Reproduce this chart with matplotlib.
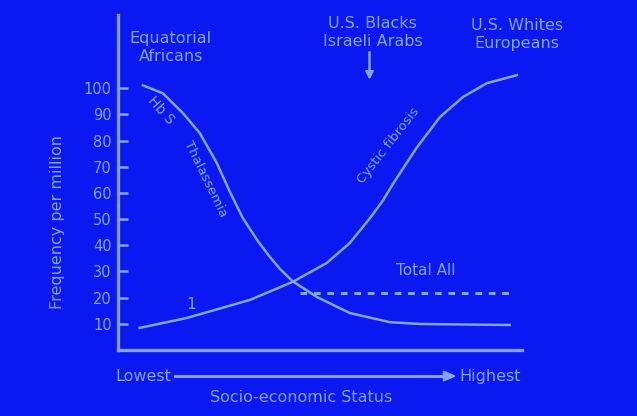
import numpy as np
import matplotlib.pyplot as plt

# socio-economic position (0 = lowest, 10 = highest) and frequency per million
dec_x = [0.62, 1.11, 1.61, 2.03, 2.45, 2.77, 3.09, 3.27, 3.47, 3.76, 4.01, 4.33, 4.93, 5.74, 6.73, 7.48, 9.70]
dec_y = [101.1, 98.1, 90.5, 82.8, 71.4, 60.5, 50.5, 46.2, 41.5, 35.6, 31.0, 26.2, 20.2, 14.1, 10.6, 9.9, 9.5]

inc_x = [0.54, 1.71, 3.27, 4.33, 5.17, 5.74, 6.24, 6.56, 6.81, 7.40, 7.97, 8.54, 9.13, 9.88]
inc_y = [8.4, 12.2, 19.1, 26.0, 33.2, 40.8, 50.3, 57.0, 63.4, 77.3, 88.9, 96.6, 101.9, 105]

flat_x = [4.5, 9.7]
flat_y = [21.8, 21.8]

yticks = [10, 20, 30, 40, 50, 60, 70, 80, 90, 100]

bg = '#0a18f2'
fg = '#86a6f2'

fig = plt.figure(figsize=(6.37, 4.16), dpi=100, facecolor=bg)
ax = fig.add_axes([0.185, 0.159, 0.634, 0.805], facecolor=bg)

ax.plot(dec_x, dec_y, color=fg, lw=1.8, solid_joinstyle='round')
ax.plot(inc_x, inc_y, color=fg, lw=1.8, solid_joinstyle='round')
ax.plot(flat_x, flat_y, color=fg, lw=2.2, ls=(0, (2.2, 2.2)))

ax.set_xlim(0, 10)
ax.set_ylim(0, 128)
ax.set_xticks([])
ax.set_yticks(yticks)
ax.tick_params(axis='y', direction='in', length=7, width=1.8, colors=fg,
               labelsize=10.5, pad=4.5)
for s in ['top', 'right']:
    ax.spines[s].set_visible(False)
for s in ['left', 'bottom']:
    ax.spines[s].set_color(fg)
    ax.spines[s].set_linewidth(2.4)

ax.set_ylabel('Frequency per million', color=fg, fontsize=11.5)
ax.yaxis.set_label_coords(-0.131, 0.382)

# curve labels
ax.text(1.06, 91.6, 'Hb S', color=fg, fontsize=10, rotation=-48, ha='center', va='center')
ax.text(2.18, 65.3, 'Thalassemia', color=fg, fontsize=9.5, rotation=-64, ha='center', va='center')
ax.text(6.70, 78, 'Cystic fibrosis', color=fg, fontsize=9.5, rotation=52, ha='center', va='center')
ax.text(1.81, 17.5, '1', color=fg, fontsize=11, ha='center', va='center')
ax.text(7.62, 30.5, 'Total All', color=fg, fontsize=11, ha='center', va='center')

# population labels above the plot
fig.text(0.268, 0.885, 'Equatorial\nAfricans', color=fg, fontsize=11.5, ha='center', va='center',
         linespacing=1.25)
fig.text(0.585, 0.922, 'U.S. Blacks\nIsraeli Arabs', color=fg, fontsize=11.5, ha='center', va='center',
         linespacing=1.25)
fig.add_artist(plt.Line2D([0.580, 0.580], [0.875, 0.818], color=fg, lw=1.8))
fig.add_artist(plt.Polygon([[0.574, 0.83], [0.580, 0.812], [0.586, 0.83]], color=fg))
fig.text(0.812, 0.918, 'U.S. Whites\nEuropeans', color=fg, fontsize=11.5, ha='center', va='center',
         linespacing=1.25)

# socio-economic arrow below the axis
fig.text(0.225, 0.096, 'Lowest', color=fg, fontsize=11.5, ha='center', va='center')
fig.text(0.77, 0.096, 'Highest', color=fg, fontsize=11.5, ha='center', va='center')
fig.add_artist(plt.Line2D([0.275, 0.700], [0.096, 0.096], color=fg, lw=2.2))
fig.add_artist(plt.Polygon([[0.696, 0.084], [0.714, 0.096], [0.696, 0.108]], color=fg))
fig.text(0.472, 0.045, 'Socio-economic Status', color=fg, fontsize=11.5, ha='center', va='center')

fig.savefig('out.png', dpi=100, facecolor=bg)
